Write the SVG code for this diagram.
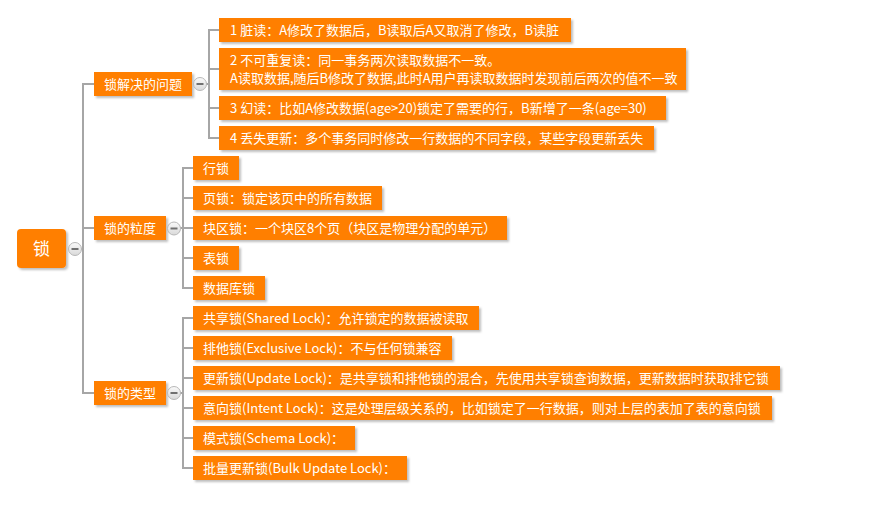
<svg xmlns="http://www.w3.org/2000/svg" width="889" height="507" viewBox="0 0 889 507">
<style>
.box{fill:#ff7f00;filter:url(#sh)}
.t{font-family:"Noto Sans CJK SC","Microsoft YaHei",sans-serif;font-size:13px;fill:#ffffff}
.rt{font-family:"Noto Sans CJK SC",sans-serif;font-size:17px;fill:#ffffff}
.ln{stroke:#a6a6a6;stroke-width:2;fill:none}
.cc{fill:url(#cg);stroke:#b8b8b8;stroke-width:1}
.mn{stroke:#707070;stroke-width:2}
</style>
<defs>
<filter id="sh" x="-10%" y="-30%" width="120%" height="170%">
<feDropShadow dx="2" dy="2" stdDeviation="1.2" flood-color="#000" flood-opacity="0.25"/>
</filter>
<linearGradient id="cg" x1="0" y1="0" x2="0" y2="1">
<stop offset="0" stop-color="#fafafa"/>
<stop offset="1" stop-color="#d9d9d9"/>
</linearGradient>
</defs>
<rect width="889" height="507" fill="#ffffff"/>
<g id="connectors">
<path class="ln" d="M81 249H83M94 84H83V393H94M83 228H94"/>
<path class="ln" d="M206 84H209M219 30H209V138H219M209 69H219M209 108H219"/>
<path class="ln" d="M180 228H183M193 168H183V288H193M183 198H193M183 228H193M183 258H193"/>
<path class="ln" d="M180 393H183M193 318H183V468H193M183 348H193M183 378H193M183 408H193M183 438H193"/>
</g>
<g id="root">
<rect class="box" x="17" y="229" width="49" height="39" rx="4"/>
<text class="rt" x="41.5" y="254.5" text-anchor="middle">锁</text>
<circle class="cc" cx="75" cy="249" r="6.5"/><line class="mn" x1="71.5" y1="249" x2="78.5" y2="249"/>
</g>
<g id="b1">
<rect class="box" x="94" y="72" width="98" height="24"/>
<text class="t" x="143" y="88.5" text-anchor="middle">锁解决的问题</text>
<circle class="cc" cx="200" cy="84" r="6.5"/><line class="mn" x1="196.5" y1="84" x2="203.5" y2="84"/>
</g>
<g id="b1c1"><rect class="box" x="219" y="18" width="352" height="24"/><text class="t" x="230" y="34.5">1 脏读：A修改了数据后，B读取后A又取消了修改，B读脏</text></g>
<g id="b1c2"><rect class="box" x="219" y="48" width="467" height="42"/><text class="t" x="230" y="65">2 不可重复读：同一事务两次读取数据不一致。</text><text class="t" x="230" y="83">A读取数据,随后B修改了数据,此时A用户再读取数据时发现前后两次的值不一致</text></g>
<g id="b1c3"><rect class="box" x="219" y="96" width="447" height="24"/><text class="t" x="230" y="112.5">3 幻读：比如A修改数据(age&gt;20)锁定了需要的行，B新增了一条(age=30)</text></g>
<g id="b1c4"><rect class="box" x="219" y="126" width="435" height="24"/><text class="t" x="230" y="142.5">4 丢失更新：多个事务同时修改一行数据的不同字段，某些字段更新丢失</text></g>
<g id="b2">
<rect class="box" x="94" y="216" width="72" height="24"/>
<text class="t" x="130" y="232.5" text-anchor="middle">锁的粒度</text>
<circle class="cc" cx="174" cy="228.5" r="6.5"/><line class="mn" x1="170.5" y1="228.5" x2="177.5" y2="228.5"/>
</g>
<g id="b2c1"><rect class="box" x="193" y="156" width="46" height="24"/><text class="t" x="203" y="172.5">行锁</text></g>
<g id="b2c2"><rect class="box" x="193" y="186" width="189" height="24"/><text class="t" x="203" y="202.5">页锁：锁定该页中的所有数据</text></g>
<g id="b2c3"><rect class="box" x="193" y="216" width="314" height="24"/><text class="t" x="203" y="232.5">块区锁：一个块区8个页（块区是物理分配的单元）</text></g>
<g id="b2c4"><rect class="box" x="193" y="246" width="46" height="24"/><text class="t" x="203" y="262.5">表锁</text></g>
<g id="b2c5"><rect class="box" x="193" y="276" width="72" height="24"/><text class="t" x="203" y="292.5">数据库锁</text></g>
<g id="b3">
<rect class="box" x="94" y="381" width="72" height="24"/>
<text class="t" x="130" y="397.5" text-anchor="middle">锁的类型</text>
<circle class="cc" cx="174" cy="393" r="6.5"/><line class="mn" x1="170.5" y1="393" x2="177.5" y2="393"/>
</g>
<g id="b3c1"><rect class="box" x="193" y="306" width="286" height="24"/><text class="t" x="203" y="322.5">共享锁(Shared Lock)：允许锁定的数据被读取</text></g>
<g id="b3c2"><rect class="box" x="193" y="336" width="259" height="24"/><text class="t" x="203" y="352.5">排他锁(Exclusive Lock)：不与任何锁兼容</text></g>
<g id="b3c3"><rect class="box" x="193" y="366" width="587" height="24"/><text class="t" x="203" y="382.5">更新锁(Update Lock)：是共享锁和排他锁的混合，先使用共享锁查询数据，更新数据时获取排它锁</text></g>
<g id="b3c4"><rect class="box" x="193" y="396" width="579" height="24"/><text class="t" x="203" y="412.5">意向锁(Intent Lock)：这是处理层级关系的，比如锁定了一行数据，则对上层的表加了表的意向锁</text></g>
<g id="b3c5"><rect class="box" x="193" y="426" width="162" height="24"/><text class="t" x="203" y="442.5">模式锁(Schema Lock)：</text></g>
<g id="b3c6"><rect class="box" x="193" y="456" width="214" height="24"/><text class="t" x="203" y="472.5">批量更新锁(Bulk Update Lock)：</text></g>
</svg>
